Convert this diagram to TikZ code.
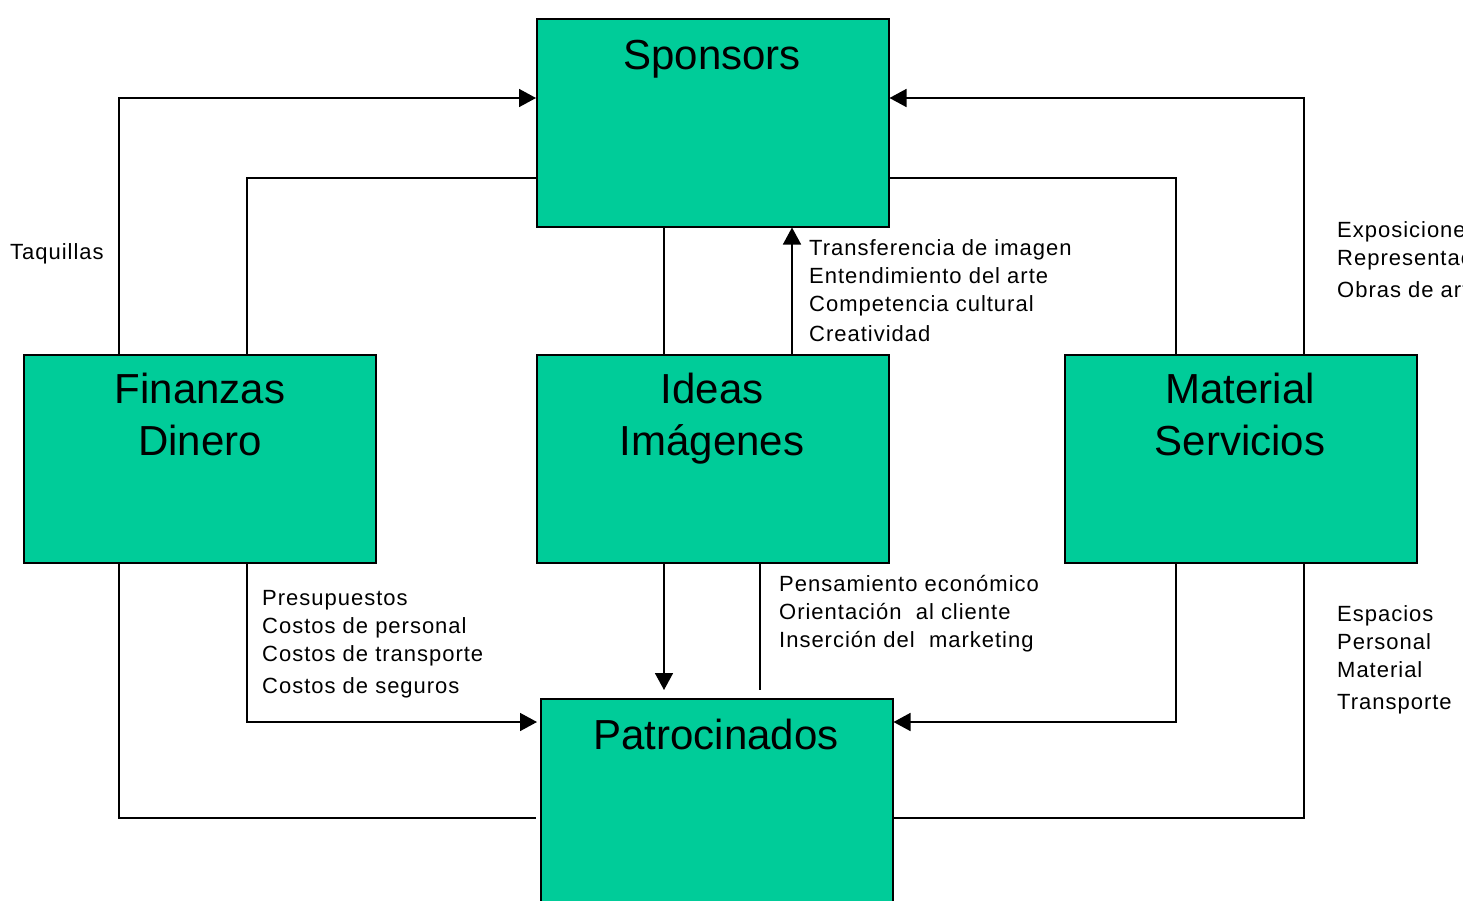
\documentclass[tikz,border=0pt]{standalone}
\usepackage{fontspec}
\setmainfont{Liberation Sans}
\newfontfamily\lblfont[LetterSpace=4.5]{Liberation Sans}
\usetikzlibrary{arrows.meta}
\definecolor{boxgreen}{RGB}{0,204,153}
\begin{document}
\begin{tikzpicture}[x=1pt,y=-1pt,
  box/.style={draw=black, line width=1.5pt, fill=boxgreen, minimum width=352pt, minimum height=208pt, inner sep=0pt, anchor=north west},
  title/.style={font=\fontsize{42}{52}\selectfont, anchor=base, inner sep=0pt},
  lbl/.style={font=\lblfont\fontsize{22}{28}\selectfont, anchor=base west, inner sep=0pt},
  conn/.style={line width=1.6pt},
  arr/.style={conn, -{Triangle[length=17pt,width=18pt]}}]
\useasboundingbox (0,0) rectangle (1463,900);
\clip (0,0) rectangle (1463,900);

% boxes
\node[box] (spo) at (536,18) {};
\node[box] (fin) at (23,354) {};
\node[box] (ide) at (536,354) {};
\node[box] (mat) at (1064,354) {};
\node[box] (pat) at (540,698) {};

% titles
\node[title] (t1) at (712,69) {Sponsors};
\node[title] (t2) at (200,403) {Finanzas};
\node[title] (t3) at (200,455) {Dinero};
\node[title] (t4) at (712,403) {Ideas};
\node[title] (t5) at (712,455) {Imágenes};
\node[title] (t6) at (1240,403) {Material};
\node[title] (t7) at (1240,455) {Servicios};
\node[title] (t8) at (716,749) {Patrocinados};

% connector corners
\coordinate (c1) at (119,98);
\coordinate (c2) at (247,178);
\coordinate (c3) at (1304,98);
\coordinate (c4) at (1176,178);
\coordinate (c5) at (664,300);
\coordinate (c6) at (792,300);
\coordinate (c8) at (760,620);
\coordinate (c9) at (247,722);
\coordinate (c10) at (119,818);
\coordinate (c11) at (1176,722);
\coordinate (c12) at (1304,818);

% connectors
\draw[arr] (fin.north -| c1) -- (c1) -- (spo.west |- c1);
\draw[conn] (fin.north -| c2) -- (c2) -- (spo.west |- c2);
\draw[arr] (mat.north -| c3) -- (c3) -- (spo.east |- c3);
\draw[conn] (mat.north -| c4) -- (c4) -- (spo.east |- c4);
\draw[conn] (spo.south -| c5) -- (ide.north -| c5);
\draw[arr] (ide.north -| c6) -- (spo.south -| c6);
\draw[arr, shorten >=8pt] (ide.south -| c5) -- (pat.north -| c5);
\draw[conn, shorten >=8pt] (ide.south -| c8) -- (pat.north -| c8);
\draw[arr, shorten >=3pt] (fin.south -| c9) -- (c9) -- (pat.west |- c9);
\draw[conn, shorten >=4pt] (fin.south -| c10) -- (c10) -- (pat.west |- c10);
\draw[arr] (mat.south -| c11) -- (c11) -- (pat.east |- c11);
\draw[conn] (mat.south -| c12) -- (c12) -- (pat.east |- c12);

% labels
\node[lbl] (l0) at (10,259) {Taquillas};

\node[lbl] (a1) at (809,255) {Transferencia de imagen};
\node[lbl] (a2) at (809,283) {Entendimiento del arte};
\node[lbl] (a3) at (809,311) {Competencia cultural};
\node[lbl] (a4) at (809,341) {Creatividad};

\node[lbl] (b1) at (1337,237) {Exposiciones};
\node[lbl] (b2) at (1337,265) {Representaciones};
\node[lbl] (b3) at (1337,297) {Obras de arte};

\node[lbl] (p1) at (262,605) {Presupuestos};
\node[lbl] (p2) at (262,633) {Costos de personal};
\node[lbl] (p3) at (262,661) {Costos de transporte};
\node[lbl] (p4) at (262,693) {Costos de seguros};

\node[lbl] (e1) at (779,591) {Pensamiento económico};
\node[lbl] (e2) at (779,619) {Orientación\ \ al cliente};
\node[lbl] (e3) at (779,647) {Inserción del\ \ marketing};

\node[lbl] (s1) at (1337,621) {Espacios};
\node[lbl] (s2) at (1337,649) {Personal};
\node[lbl] (s3) at (1337,677) {Material};
\node[lbl] (s4) at (1337,709) {Transporte};
\end{tikzpicture}
\end{document}
